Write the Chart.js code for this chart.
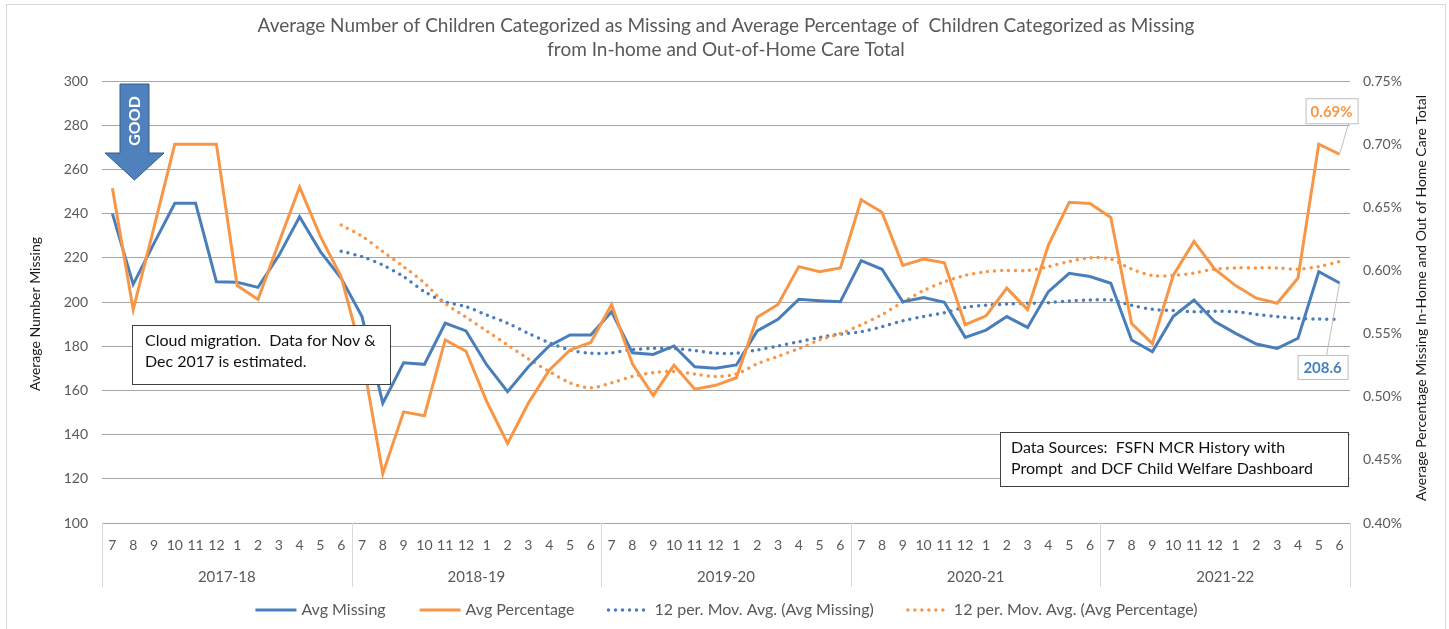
<!DOCTYPE html>
<html>
<head>
<meta charset="utf-8">
<script src="https://cdn.jsdelivr.net/npm/chart.js@4.4.0/dist/chart.umd.min.js"></script>
<style>
  html, body { margin: 0; padding: 0; background: #fff; }
  #wrap { width: 1449px; height: 629px; }
</style>
</head>
<body>
<div id="wrap"><canvas id="myChart" width="1449" height="629"></canvas></div>
<script>
// fiscal years run July..June
var fiscalYears = ['2017-18', '2018-19', '2019-20', '2020-21', '2021-22'];
var monthNumbers = ['7', '8', '9', '10', '11', '12', '1', '2', '3', '4', '5', '6'];

var avgMissing = [
    240, 208, 226.5, 244.7, 244.7, 209.2, 208.9, 206.6, 221, 238.6, 222.8, 210.7,
    193.4, 154.2, 172.5, 171.8, 190.4, 186.9, 171.5, 159.4, 170.7, 180.1, 185.1, 185.1,
    195.6, 177, 176.3, 180.1, 170.7, 170, 171.5, 186.9, 192.2, 201.2, 200.6, 200.1,
    218.7, 214.8, 200.1, 202, 199.9, 184, 187.3, 193.4, 188.5, 204.7, 213, 211.5,
    208.5, 182.8, 177.5, 193.4, 200.9, 191.1, 185.8, 181, 179, 183.6, 213.7, 208.6
];

// percent values (0.69 means 0.69%)
var avgPercentage = [
    0.665, 0.569, 0.634, 0.700, 0.700, 0.700, 0.588, 0.577, 0.622, 0.666, 0.627, 0.595,
    0.533, 0.439, 0.488, 0.485, 0.545, 0.536, 0.496, 0.463, 0.495, 0.521, 0.537, 0.543,
    0.573, 0.526, 0.501, 0.525, 0.506, 0.509, 0.515, 0.563, 0.573, 0.603, 0.599, 0.602,
    0.656, 0.646, 0.604, 0.609, 0.606, 0.557, 0.564, 0.586, 0.569, 0.620, 0.654, 0.653,
    0.642, 0.558, 0.542, 0.596, 0.623, 0.601, 0.588, 0.578, 0.574, 0.594, 0.700, 0.692
];

var movAvgMissing = [
    null, null, null, null, null, null, null, null, null, null, null, 223,
    220.5, 216.7, 211.5, 204.7, 200.1, 197.9, 194.1, 190.4, 185.8, 181.6, 178.3, 176.8,
    177, 178.5, 179, 179, 178, 176.8, 176.8, 178.3, 180.1, 182, 184, 185.5,
    186.6, 188.8, 191.5, 193.4, 195.2, 197.6, 198.5, 199.1, 199.4, 199.7, 200.5, 200.9,
    200.9, 198.5, 196.7, 196.1, 195.6, 195.8, 195.6, 194.4, 193.4, 192.6, 192.3, 192.2
];

var movAvgPercentage = [
    null, null, null, null, null, null, null, null, null, null, null, 0.636,
    0.627, 0.615, 0.603, 0.590, 0.574, 0.563, 0.552, 0.541, 0.530, 0.520, 0.511, 0.507,
    0.511, 0.516, 0.519, 0.520, 0.518, 0.516, 0.518, 0.526, 0.532, 0.538, 0.545, 0.550,
    0.557, 0.565, 0.575, 0.584, 0.591, 0.596, 0.599, 0.600, 0.600, 0.603, 0.607, 0.610,
    0.609, 0.601, 0.596, 0.596, 0.598, 0.601, 0.602, 0.602, 0.602, 0.601, 0.603, 0.607
];

var labels = [];
fiscalYears.forEach(function () { labels = labels.concat(monthNumbers); });

var FONT = 'Lato, "Open Sans", sans-serif';
var BLUE = '#4a7ebb';
var ORANGE = '#f79646';
var GREY_TEXT = '#595959';

// titles, year groups, notes, arrow, legend and end labels
var decorations = {
    id: 'decorations',
    afterDatasetsDraw: function (chart) {
        var ctx = chart.ctx;
        var area = chart.chartArea;
        var x = chart.scales.x;
        ctx.save();

        // outer frame
        ctx.strokeStyle = '#d9d9d9';
        ctx.lineWidth = 1;
        ctx.strokeRect(6.5, 4.5, 1439, 640);

        // chart title
        ctx.fillStyle = GREY_TEXT;
        ctx.textAlign = 'center';
        ctx.textBaseline = 'middle';
        ctx.font = '19px ' + FONT;
        ctx.fillText('Average Number of Children Categorized as Missing and Average Percentage of  Children Categorized as Missing', 726, 26);
        ctx.fillText('from In-home and Out-of-Home Care Total', 726, 50);

        // axis titles
        ctx.fillStyle = '#1a1a1a';
        ctx.font = '14px ' + FONT;
        ctx.save();
        ctx.translate(35, 314);
        ctx.rotate(-Math.PI / 2);
        ctx.fillText('Average Number Missing', 0, 0);
        ctx.restore();
        ctx.save();
        ctx.translate(1421, 298);
        ctx.rotate(-Math.PI / 2);
        ctx.fillText('Average Percentage Missing In-Home and Out of Home Care Total', 0, 0);
        ctx.restore();

        // year group separators and labels
        var step = (area.right - area.left) / labels.length;
        ctx.strokeStyle = '#d9d9d9';
        ctx.fillStyle = GREY_TEXT;
        ctx.font = '15px ' + FONT;
        for (var k = 0; k <= fiscalYears.length; k++) {
            var bx = Math.round(area.left + k * 12 * step) + 0.5;
            ctx.beginPath();
            ctx.moveTo(bx, area.bottom);
            ctx.lineTo(bx, 587);
            ctx.stroke();
            if (k < fiscalYears.length) {
                ctx.fillText(fiscalYears[k], area.left + (k * 12 + 6) * step, 577);
            }
        }

        // GOOD arrow
        ctx.beginPath();
        ctx.moveTo(120, 84);
        ctx.lineTo(149, 84);
        ctx.lineTo(149, 153);
        ctx.lineTo(164, 153);
        ctx.lineTo(134.5, 180);
        ctx.lineTo(105, 153);
        ctx.lineTo(120, 153);
        ctx.closePath();
        ctx.fillStyle = '#4f81bd';
        ctx.fill();
        ctx.strokeStyle = '#385d8a';
        ctx.stroke();
        ctx.save();
        ctx.translate(135, 121);
        ctx.rotate(-Math.PI / 2);
        ctx.fillStyle = '#fff';
        ctx.font = 'bold 16px ' + FONT;
        ctx.fillText('GOOD', 0, 0);
        ctx.restore();

        // note boxes
        function noteBox(x0, y0, w, h, lines, tx, ty) {
            ctx.fillStyle = '#fff';
            ctx.fillRect(x0, y0, w, h);
            ctx.strokeStyle = '#404040';
            ctx.lineWidth = 1;
            ctx.strokeRect(x0 + 0.5, y0 + 0.5, w, h);
            ctx.fillStyle = '#111';
            ctx.textAlign = 'left';
            ctx.font = '16px ' + FONT;
            lines.forEach(function (t, i) { ctx.fillText(t, tx, ty + i * 21); });
        }
        noteBox(132, 325, 258, 59, ['Cloud migration.  Data for Nov &', 'Dec 2017 is estimated.'], 145, 341);
        noteBox(1000, 432, 348, 54, ['Data Sources:  FSFN MCR History with', 'Prompt  and DCF Child Welfare Dashboard'], 1011, 448);

        // end-point value labels
        var last = labels.length - 1;
        var px = x.getPixelForValue(last);
        var pyO = chart.scales.y1.getPixelForValue(avgPercentage[last]);
        var pyB = chart.scales.y.getPixelForValue(avgMissing[last]);
        function valueLabel(text, color, bx0, by0, w, h, lx, ly, ptx, pty) {
            ctx.strokeStyle = '#bfbfbf';
            ctx.beginPath();
            ctx.moveTo(lx, ly);
            ctx.lineTo(ptx, pty);
            ctx.stroke();
            ctx.fillStyle = '#fff';
            ctx.fillRect(bx0, by0, w, h);
            ctx.strokeRect(bx0 + 0.5, by0 + 0.5, w, h);
            ctx.fillStyle = color;
            ctx.textAlign = 'center';
            ctx.font = 'bold 15px ' + FONT;
            ctx.fillText(text, bx0 + w / 2, by0 + h / 2 + 1);
        }
        valueLabel(avgPercentage[last].toFixed(2) + '%', ORANGE, px - 34, pyO - 56, 52, 25, px + 9, pyO - 31, px, pyO);
        valueLabel(avgMissing[last].toFixed(1), BLUE, px - 42, pyB + 72, 50, 24, px - 13, pyB + 72, px, pyB);

        // legend
        var items = chart.data.datasets.slice().sort(function (a, b) { return a.legendIdx - b.legendIdx; });
        ctx.font = '16px ' + FONT;
        var widths = items.map(function (d) { return 42 + 5 + ctx.measureText(d.label).width; });
        var total = widths.reduce(function (s, w) { return s + w; }, 0) + 33 * (items.length - 1);
        var lx0 = 726 - total / 2;
        var ly = 610;
        items.forEach(function (d, i) {
            ctx.strokeStyle = d.borderColor;
            ctx.lineWidth = d.borderWidth;
            ctx.lineCap = d.borderDash ? 'round' : 'butt';
            ctx.setLineDash(d.borderDash || []);
            ctx.beginPath();
            ctx.moveTo(lx0 + 1, ly);
            ctx.lineTo(lx0 + 42, ly);
            ctx.stroke();
            ctx.setLineDash([]);
            ctx.fillStyle = GREY_TEXT;
            ctx.textAlign = 'left';
            ctx.fillText(d.label, lx0 + 47, ly);
            lx0 += widths[i] + 33;
        });

        ctx.restore();
    }
};

var ctx = document.getElementById('myChart');

const myChart = new Chart(ctx, {
    type: 'line',
    data: {
        labels: labels,
        datasets: [
            {
                label: 'Avg Missing',
                data: avgMissing,
                yAxisID: 'y',
                borderColor: BLUE,
                borderWidth: 3,
                pointRadius: 0,
                tension: 0,
                order: 2,
                legendIdx: 0
            },
            {
                label: 'Avg Percentage',
                data: avgPercentage,
                yAxisID: 'y1',
                borderColor: ORANGE,
                borderWidth: 3,
                pointRadius: 0,
                tension: 0,
                order: 1,
                legendIdx: 1
            },
            {
                label: '12 per. Mov. Avg. (Avg Missing)',
                data: movAvgMissing,
                yAxisID: 'y',
                borderColor: BLUE,
                borderWidth: 3.5,
                borderDash: [0, 7],
                borderCapStyle: 'round',
                pointRadius: 0,
                tension: 0.3,
                order: 4,
                legendIdx: 2
            },
            {
                label: '12 per. Mov. Avg. (Avg Percentage)',
                data: movAvgPercentage,
                yAxisID: 'y1',
                borderColor: ORANGE,
                borderWidth: 3.5,
                borderDash: [0, 7],
                borderCapStyle: 'round',
                pointRadius: 0,
                tension: 0.3,
                order: 3,
                legendIdx: 3
            }
        ]
    },
    options: {
        responsive: false,
        animation: false,
        layout: {
            padding: { top: 81, right: 0, bottom: 0, left: 0 }
        },
        plugins: {
            legend: { display: false },
            title: { display: false },
            tooltip: { enabled: false }
        },
        scales: {
            x: {
                offset: true,
                grid: { display: false, drawTicks: false, offset: true },
                border: { display: false },
                ticks: {
                    autoSkip: false,
                    maxRotation: 0,
                    minRotation: 0,
                    padding: 14,
                    color: GREY_TEXT,
                    font: { family: FONT, size: 14 }
                },
                afterFit: function (scale) { scale.height = 106; }
            },
            y: {
                position: 'left',
                min: 100,
                max: 300,
                grid: { color: '#a6a6a6', drawTicks: false },
                border: { display: false },
                ticks: {
                    stepSize: 20,
                    padding: 14,
                    color: GREY_TEXT,
                    font: { family: FONT, size: 14 }
                },
                afterFit: function (scale) { scale.width = 102; }
            },
            y1: {
                position: 'right',
                min: 0.40,
                max: 0.75,
                grid: { drawOnChartArea: false, drawTicks: false },
                border: { display: false },
                ticks: {
                    stepSize: 0.05,
                    padding: 13,
                    color: GREY_TEXT,
                    font: { family: FONT, size: 14 },
                    callback: function (v) { return v.toFixed(2) + '%'; }
                },
                afterFit: function (scale) { scale.width = 99; }
            }
        }
    },
    plugins: [decorations]
});
</script>
</body>
</html>
